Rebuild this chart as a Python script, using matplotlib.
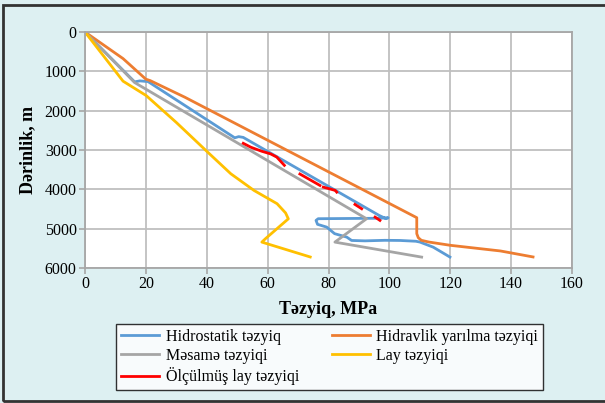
import matplotlib
matplotlib.use("Agg")
import matplotlib.pyplot as plt
import numpy as np
from matplotlib.patches import Rectangle

# pressure (MPa) vs depth (m) for each curve
hidro_p = [0, 16.3, 18, 20.7, 49.2, 50.5, 52, 96.6, 98.9, 99.6, 97, 76.6, 75.9, 76.4, 79.4, 82, 86, 87.6, 92, 98.5, 103.5, 108.7, 110, 114.4, 119.9]
hidro_d = [0, 1268, 1243, 1260, 2690, 2660, 2680, 4662, 4746, 4722, 4735, 4747, 4790, 4890, 4960, 5127, 5215, 5300, 5310, 5296, 5300, 5320, 5340, 5470, 5722]

frac_p = [0, 12.5, 20, 21.4, 32.8, 109, 109, 109.5, 110.5, 113, 120, 136.5, 147.2]
frac_d = [0, 676, 1200, 1235, 1658, 4721, 5127, 5230, 5296, 5340, 5423, 5567, 5719]

pore_p = [0, 16.3, 92.5, 82.1, 110.6]
pore_d = [0, 1285, 4748, 5342, 5723]

lay_p = [0, 5, 12.5, 20.1, 30, 40.3, 47.9, 55.5, 63.1, 65.9, 66.8, 59.3, 58.1, 74.0]
lay_d = [0, 500, 1250, 1616, 2300, 3054, 3604, 4027, 4365, 4600, 4750, 5254, 5342, 5720]

# measured formation pressure, shown as separate pieces
olc_p = [52, 54.5, 58, 61, 63, 65.5, np.nan, 70.6, 74, 77.2, np.nan, 78.3, 82.2, 82.7, np.nan, 88.7, 90.9, np.nan, 95.3, 96.9]
olc_d = [2830, 2930, 3030, 3100, 3180, 3390, np.nan, 3610, 3760, 3901, np.nan, 3944, 4027, 4071, np.nan, 4384, 4494, np.nan, 4706, 4790]

x_ticks = [0, 20, 40, 60, 80, 100, 120, 140, 160]
y_ticks = [0, 1000, 2000, 3000, 4000, 5000, 6000]

plt.rcParams['font.family'] = ['Liberation Serif', 'DejaVu Serif']

bg = '#DDF0F2'
fig = plt.figure(figsize=(6.05, 4.03), dpi=100, facecolor=bg)
ax = fig.add_axes([85/605, 1 - 268/403, 487/605, 236/403])
ax.set_facecolor('white')

lw = 2.0
l1, = ax.plot(hidro_p, hidro_d, color='#5B9BD5', lw=lw, label='Hidrostatik təzyiq')
l2, = ax.plot(frac_p, frac_d, color='#ED7D31', lw=lw, label='Hidravlik yarılma təzyiqi')
l3, = ax.plot(pore_p, pore_d, color='#A5A5A5', lw=lw, label='Məsamə təzyiqi')
l4, = ax.plot(lay_p, lay_d, color='#FFC000', lw=lw, label='Lay təzyiqi')
l5, = ax.plot(olc_p, olc_d, color='#FF0000', lw=lw, label='Ölçülmüş lay təzyiqi')

ax.set_xlim(0, 160)
ax.set_ylim(6000, 0)
ax.set_xticks(x_ticks)
ax.set_yticks(y_ticks)
ax.grid(True, color='#BFBFBF', lw=1.3)
ax.set_axisbelow(True)
for s in ax.spines.values():
    s.set_color('#A6A6A6')
    s.set_linewidth(1.3)
ax.tick_params(colors='#A6A6A6', labelcolor='black', labelsize=11.5, length=4, width=1.2, pad=2)

ax.set_xlabel('Təzyiq, MPa', fontsize=13, fontweight='bold', labelpad=6)
ax.set_ylabel('Dərinlik, m', fontsize=13, fontweight='bold', labelpad=6)

leg = fig.legend([l1, l3, l5, l2, l4],
                 [l.get_label() for l in [l1, l3, l5, l2, l4]],
                 ncol=2, loc='upper left',
                 bbox_to_anchor=(116/605, 1 - 386/403, 427/605, 62/403),
                 mode='expand', fontsize=11.5, frameon=True, fancybox=False,
                 edgecolor='black', borderpad=0.3, labelspacing=0.2,
                 handlelength=2.4, handletextpad=0.4, columnspacing=1.0,
                 borderaxespad=0)
leg.get_frame().set_linewidth(1.0)

fig.patches.append(Rectangle((3/605, 2/403), 0.999, 396/403, transform=fig.transFigure,
                             fill=False, edgecolor='#333333', lw=2.0))

fig.savefig('out.png', dpi=100, facecolor=bg)
